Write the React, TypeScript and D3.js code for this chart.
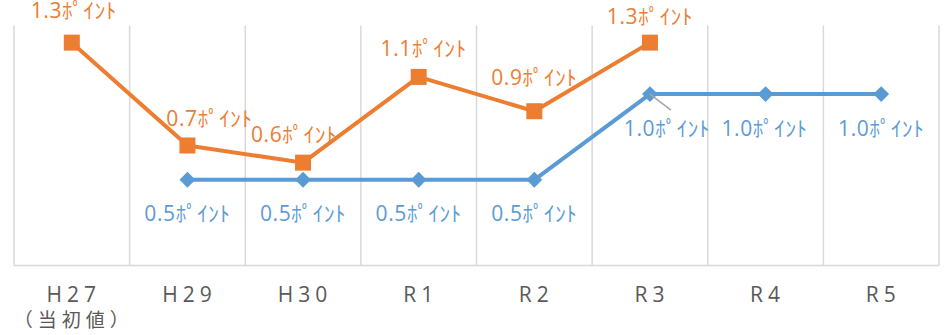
import React from "react";
import * as d3 from "d3";

const categories = ["H27", "H29", "H30", "R1", "R2", "R3", "R4", "R5"];
const subLabels = ["（当初値）", "", "", "", "", "", "", ""];
const orangeValues: (number | null)[] = [1.3, 0.7, 0.6, 1.1, 0.9, 1.3, null, null];
const blueValues: (number | null)[] = [null, 0.5, 0.5, 0.5, 0.5, 1.0, 1.0, 1.0];
const orangeLabels = ["1.3ﾎﾟｲﾝﾄ", "0.7ﾎﾟｲﾝﾄ", "0.6ﾎﾟｲﾝﾄ", "1.1ﾎﾟｲﾝﾄ", "0.9ﾎﾟｲﾝﾄ", "1.3ﾎﾟｲﾝﾄ", "", ""];
const blueLabels = ["", "0.5ﾎﾟｲﾝﾄ", "0.5ﾎﾟｲﾝﾄ", "0.5ﾎﾟｲﾝﾄ", "0.5ﾎﾟｲﾝﾄ", "1.0ﾎﾟｲﾝﾄ", "1.0ﾎﾟｲﾝﾄ", "1.0ﾎﾟｲﾝﾄ"];
// manual label nudges (dx, dy from marker)
const orangeNudge: [number, number][] = [[2, -25], [22, -20], [-9, -21], [5, -21], [0, -26], [0, -19], [0, 0], [0, 0]];
const blueNudge: [number, number][] = [[0, 0], [0, 41], [0, 41], [0, 41], [0, 41], [17, 42], [-1, 42], [0, 42]];

const W = 949;
const H = 335;
const ORANGE = "#ED7D31";
const BLUE = "#5B9BD5";
const FONT = "'Noto Sans CJK JP', 'Noto Sans', sans-serif";
const LABEL_FONT = "'Open Sans', 'Noto Sans CJK JP', sans-serif";

export default function App() {
  const x = d3.scaleBand<string>().domain(categories).range([14, 939]).padding(0);
  const y = d3.scaleLinear().domain([0, 1.4]).range([265.5, 25.5]);
  const cx = (i: number) => (x(categories[i]) as number) + x.bandwidth() / 2;

  const line = d3
    .line<number | null>()
    .defined((d) => d != null)
    .x((_, i) => cx(i))
    .y((d) => y(d as number));

  const gridXs = [...categories.map((c) => x(c) as number), 939];
  const diamond = d3.symbol().type(d3.symbolDiamond2).size(160)();
  const square = d3.symbol().type(d3.symbolSquare).size(256)();

  return (
    <svg width={W} height={H} style={{ position: "absolute", left: 0, top: 0 }} fontFamily={FONT}>
      <rect width={W} height={H} fill="#fff" />
      {gridXs.map((gx, i) => (
        <line key={i} x1={gx} x2={gx} y1={y(1.4)} y2={y(0)} stroke="#D9D9D9" strokeWidth={1.5} />
      ))}
      <line x1={14} x2={939} y1={y(0)} y2={y(0)} stroke="#D9D9D9" strokeWidth={1.5} />

      <path d={line(orangeValues) || ""} fill="none" stroke={ORANGE} strokeWidth={4} strokeLinejoin="round" />
      {orangeValues.map((v, i) =>
        v == null ? null : (
          <path key={i} d={square || ""} transform={`translate(${cx(i)},${y(v)})`} fill={ORANGE} />
        )
      )}
      <path d={line(blueValues) || ""} fill="none" stroke={BLUE} strokeWidth={4} strokeLinejoin="round" />
      {blueValues.map((v, i) =>
        v == null ? null : (
          <path key={i} d={diamond || ""} transform={`translate(${cx(i)},${y(v)})`} fill={BLUE} />
        )
      )}

      {/* leader line */}
      <line x1={cx(5)} y1={y(blueValues[5] as number)} x2={cx(5) + 21} y2={y(blueValues[5] as number) + 16} stroke="#A6A6A6" strokeWidth={1.5} />

      {orangeValues.map((v, i) =>
        v == null ? null : (
          <text key={i} x={cx(i) + orangeNudge[i][0]} y={y(v) + orangeNudge[i][1]} textAnchor="middle" fill={ORANGE} fontFamily={LABEL_FONT} fontSize={21} letterSpacing={0.6}>
            {orangeLabels[i]}
          </text>
        )
      )}
      {blueValues.map((v, i) =>
        v == null ? null : (
          <text key={i} x={cx(i) + blueNudge[i][0]} y={y(v) + blueNudge[i][1]} textAnchor="middle" fill={BLUE} fontFamily={LABEL_FONT} fontSize={21} letterSpacing={0.6}>
            {blueLabels[i]}
          </text>
        )
      )}

      {categories.map((c, i) => (
        <text key={c} x={cx(i) + 2} y={302} textAnchor="middle" fill="#595959" fontFamily={LABEL_FONT} fontSize={21} letterSpacing={5}>
          {c}
        </text>
      ))}
      {subLabels.map((s, i) =>
        s ? (
          <text key={i} x={cx(i) + 2} y={327} textAnchor="middle" fill="#595959" fontSize={19} letterSpacing={5}>
            {s}
          </text>
        ) : null
      )}
    </svg>
  );
}
